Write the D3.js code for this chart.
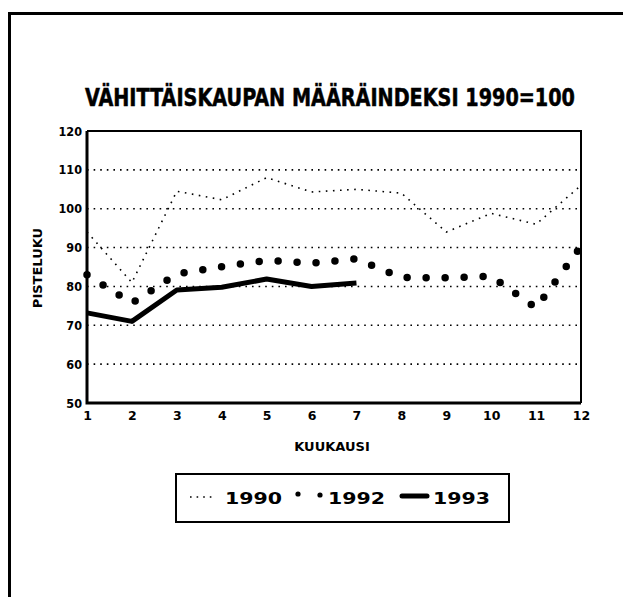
<!DOCTYPE html>
<html>
<head>
<meta charset="utf-8">
<script src="https://cdn.jsdelivr.net/npm/d3@7"></script>
<style>
  body { margin: 0; background: #fff; }
  text { font-family: "DejaVu Sans", "Liberation Sans", Arial, sans-serif; font-weight: bold; fill: #000; }
</style>
</head>
<body>
<svg id="chart" width="623" height="597"></svg>
<script>
const months = [1, 2, 3, 4, 5, 6, 7, 8, 9, 10, 11, 12]
const yTicks = [50, 60, 70, 80, 90, 100, 110, 120]
const gridValues = [60, 70, 80, 90, 100, 110]
const values1990 = [94, 81, 104.5, 102.3, 108, 104.3, 105, 104, 94, 98.8, 96, 106]
const values1992 = [83, 75.7, 83.2, 85.1, 86.7, 86, 87.1, 82.3, 82.2, 82.6, 74.5, 90.3]
const values1993 = [73.2, 71, 79.1, 79.8, 81.9, 80, 80.9]
const seriesNames = ['1990', '1992', '1993']

const svg = d3.select('#chart')
const margin = { left: 87, right: 42, top: 131, bottom: 194 }
const width = 623 - margin.left - margin.right
const height = 597 - margin.top - margin.bottom

// outer frame (left + top only)
svg.append('path')
  .attr('d', 'M9.5,597 V13.5 H623')
  .attr('fill', 'none')
  .attr('stroke', '#000')
  .attr('stroke-width', 3)

// title, squeezed horizontally to the width of the original
const title = svg.append('g')
const titleText = title.append('text')
  .style('font-family', '"DejaVu Sans Condensed", "Liberation Sans Narrow", sans-serif')
  .style('font-size', '25px')
  .style('stroke', '#000').style('stroke-width', 0.5)
  .text('VÄHITTÄISKAUPAN MÄÄRÄINDEKSI 1990=100')
const titleLen = titleText.node().getComputedTextLength()
title.attr('transform', 'translate(85,106) scale(' + (490 / titleLen) + ',1)')

const g = svg.append('g').attr('transform', 'translate(' + margin.left + ',' + margin.top + ')')

const x = d3.scaleLinear().domain([1, 12]).range([0, width])
const y = d3.scaleLinear().domain([50, 120]).range([height, 0])

// grid
g.selectAll('.grid').data(gridValues)
  .enter().append('line')
  .attr('class', 'grid')
  .attr('x1', 0).attr('x2', width)
  .attr('y1', d => y(d)).attr('y2', d => y(d))
  .attr('stroke', '#000')
  .attr('stroke-width', 1.6)
  .attr('stroke-dasharray', '1.6,5')

// axes
const yAxis = d3.axisLeft(y).tickValues(yTicks).tickSize(0).tickPadding(5)
const xAxis = d3.axisBottom(x).tickValues(months).tickSize(0).tickPadding(8)

g.append('g').call(yAxis)
  .call(s => s.select('.domain').remove())
  .selectAll('text').style('font-size', '12.5px').style('font-family', '"DejaVu Sans Condensed", "DejaVu Sans", sans-serif')

g.append('g').attr('transform', 'translate(0,' + height + ')').call(xAxis)
  .call(s => s.select('.domain').remove())
  .selectAll('text').style('font-size', '12.5px').style('font-family', '"DejaVu Sans", sans-serif')

// plot frame
g.append('path')
  .attr('d', 'M0,0 H' + width + ' V' + height)
  .attr('fill', 'none').attr('stroke', '#000').attr('stroke-width', 2)
g.append('path')
  .attr('d', 'M0,0 V' + height + ' H' + width)
  .attr('fill', 'none').attr('stroke', '#000').attr('stroke-width', 3)

const line = d3.line().x((d, i) => x(months[i])).y(d => y(d))

g.append('path').datum(values1990)
  .attr('d', line)
  .attr('fill', 'none').attr('stroke', '#000')
  .attr('stroke-width', 1.6)
  .attr('stroke-dasharray', '1.6,5.5')

g.append('path').datum(values1992)
  .attr('d', line)
  .attr('fill', 'none').attr('stroke', '#000')
  .attr('stroke-width', 7.5)
  .attr('stroke-linecap', 'round')
  .attr('stroke-dasharray', '0,19')

g.append('path').datum(values1993)
  .attr('d', line)
  .attr('fill', 'none').attr('stroke', '#000')
  .attr('stroke-width', 5)
  .attr('stroke-linejoin', 'round')

// axis titles
svg.append('text')
  .attr('transform', 'translate(42,268) rotate(-90)')
  .attr('text-anchor', 'middle')
  .style('font-size', '13px')
  .text('PISTELUKU')

svg.append('text')
  .attr('x', 332).attr('y', 451)
  .attr('text-anchor', 'middle')
  .style('font-size', '13px')
  .text('KUUKAUSI')

// legend
const legend = svg.append('g').attr('transform', 'translate(176,474)')
legend.append('rect')
  .attr('width', 333).attr('height', 48)
  .attr('fill', 'none').attr('stroke', '#000').attr('stroke-width', 2)

const symbolX = [14, 122, 226]
const textX = [49, 152, 257]
seriesNames.forEach((name, i) => {
  const gx = legend.append('g').attr('transform', 'translate(' + symbolX[i] + ',24)')
  if (i === 0) {
    gx.append('line')
      .attr('x1', 0).attr('x2', 24).attr('y1', -1).attr('y2', -1)
      .attr('stroke', '#000').attr('stroke-width', 1.6)
      .attr('stroke-dasharray', '1.6,5')
  } else if (i === 1) {
    gx.selectAll('circle').data([0, 22])
      .enter().append('circle')
      .attr('cx', d => d).attr('cy', (d, j) => j === 0 ? -4 : -3)
      .attr('r', 2.6)
      .attr('fill', '#000')
  } else {
    gx.append('line')
      .attr('x1', 0).attr('x2', 25).attr('y1', -2).attr('y2', -2)
      .attr('stroke', '#000').attr('stroke-width', 5)
      .attr('stroke-linecap', 'round')
  }
  legend.append('text')
    .attr('x', textX[i]).attr('y', 30)
    .attr('textLength', 57)
    .attr('lengthAdjust', 'spacingAndGlyphs')
    .style('font-size', '16px')
    .text(name)
})
</script>
</body>
</html>
